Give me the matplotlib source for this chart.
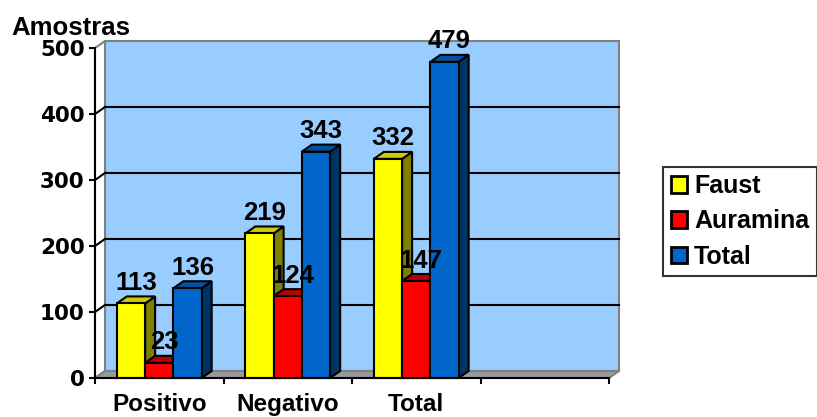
import matplotlib
matplotlib.use("Agg")
import matplotlib.pyplot as plt
from matplotlib.patches import Polygon, Rectangle, Patch

# Data
categories = ["Positivo", "Negativo", "Total"]
series_names = ["Faust", "Auramina", "Total"]
faust = [113, 219, 332]
auramina = [23, 124, 147]
total = [136, 343, 479]
y_ticks = [0, 100, 200, 300, 400, 500]

series = [faust, auramina, total]
face_colors = ["#FFFF00", "#FF0000", "#0066CC"]
top_colors = ["#CCCC00", "#B80000", "#0052A3"]
side_colors = ["#808000", "#800000", "#003366"]

W, H = 817, 417
fig = plt.figure(figsize=(W / 100, H / 100), dpi=100)
fig.patch.set_facecolor("white")

# front plane of the 3-D box, in pixels
x0_px, x1_px, y0_px, y1_px = 95, 609, 378, 48
ax = fig.add_axes([x0_px / W, (H - y0_px) / H, (x1_px - x0_px) / W, (y0_px - y1_px) / H])
ax.set_xlim(0, 4)
ax.set_ylim(0, 500)
ax.set_facecolor("none")

# depth offset of the box (pixels -> data units)
depth_x_px, depth_y_px = 10, 7
DX = 4 * depth_x_px / (x1_px - x0_px)
DY = 500 * depth_y_px / (y0_px - y1_px)

lw = 1.5
# back wall
ax.add_patch(Rectangle((DX, DY), 4, 500, facecolor="#99CCFF", edgecolor="#808080",
                       lw=lw, clip_on=False, zorder=0))
# side wall
ax.add_patch(Polygon([(0, 0), (DX, DY), (DX, 500 + DY), (0, 500)], closed=True,
                     facecolor="white", edgecolor="#808080", lw=lw, clip_on=False, zorder=0.5))
# gridlines on walls
for v in y_ticks[1:-1]:
    ax.plot([DX, 4 + DX], [v + DY, v + DY], color="black", lw=lw, clip_on=False, zorder=1)
    ax.plot([0, DX], [v, v + DY], color="black", lw=lw, clip_on=False, zorder=1)
# floor
ax.add_patch(Polygon([(0, 0), (4, 0), (4 + DX, DY), (DX, DY)], closed=True,
                     facecolor="#999999", edgecolor="#808080", lw=lw, clip_on=False, zorder=1))

# 3-D bars
bar_w = 0.22
group_start = 0.5 - 1.5 * bar_w
z = 2
labels = []
for i, cat in enumerate(categories):
    for j, vals in enumerate(series):
        v = vals[i]
        xl = i + group_start + j * bar_w
        xr = xl + bar_w
        side = Polygon([(xr, 0), (xr + DX, DY), (xr + DX, v + DY), (xr, v)], closed=True,
                       facecolor=side_colors[j], edgecolor="black", lw=lw, clip_on=False, zorder=z)
        top = Polygon([(xl, v), (xr, v), (xr + DX, v + DY), (xl + DX, v + DY)], closed=True,
                      facecolor=top_colors[j], edgecolor="black", lw=lw, clip_on=False, zorder=z)
        front = Rectangle((xl, 0), bar_w, v, facecolor=face_colors[j], edgecolor="black",
                          lw=lw, clip_on=False, zorder=z + 0.5)
        ax.add_patch(side)
        ax.add_patch(top)
        ax.add_patch(front)
        z += 1
        labels.append(((xl + xr) / 2 + DX / 2, v + DY, str(v)))

for x, y, s in labels:
    ax.annotate(s, (x, y), xytext=(0, 1), textcoords="offset points",
                ha="center", va="bottom", fontsize=18.5, fontweight="bold",
                family="Liberation Sans", zorder=100, annotation_clip=False)

# axes
for s in ["top", "right"]:
    ax.spines[s].set_visible(False)
for s in ["left", "bottom"]:
    ax.spines[s].set_color("black")
    ax.spines[s].set_linewidth(lw)
    ax.spines[s].set_zorder(50)

ax.set_yticks(y_ticks)
ax.set_yticklabels([str(t) for t in y_ticks], fontsize=15.5, fontweight="bold", family="DejaVu Sans")
ax.tick_params(axis="y", direction="out", length=4.5, width=lw, pad=3, colors="black")

ax.set_xticks([0.5, 1.5, 2.5])
ax.set_xticklabels(categories, fontsize=17.5, fontweight="bold", family="Liberation Sans")
ax.set_xticks([0, 1, 2, 3, 4], minor=True)
ax.tick_params(axis="x", which="major", length=0, pad=10.5)
ax.tick_params(axis="x", which="minor", direction="out", length=4.5, width=lw)

fig.text(11 / W, 1 - 35 / H, "Amostras", fontsize=18.5, fontweight="bold",
         family="Liberation Sans", ha="left", va="baseline")

handles = [Patch(facecolor=c, edgecolor="black", lw=2) for c in face_colors]
leg = fig.legend(handles, series_names, loc="center left", bbox_to_anchor=(663 / W, 1 - 221.5 / H),
                 bbox_transform=fig.transFigure, frameon=True, fancybox=False,
                 prop={"family": "Liberation Sans", "weight": "bold", "size": 18},
                 handlelength=0.65, handleheight=0.65, handletextpad=0.3, labelspacing=0.45,
                 borderpad=0.3, borderaxespad=0)
leg.get_frame().set_edgecolor("black")
leg.get_frame().set_linewidth(lw)

fig.savefig("out.png", dpi=100, facecolor="white")
